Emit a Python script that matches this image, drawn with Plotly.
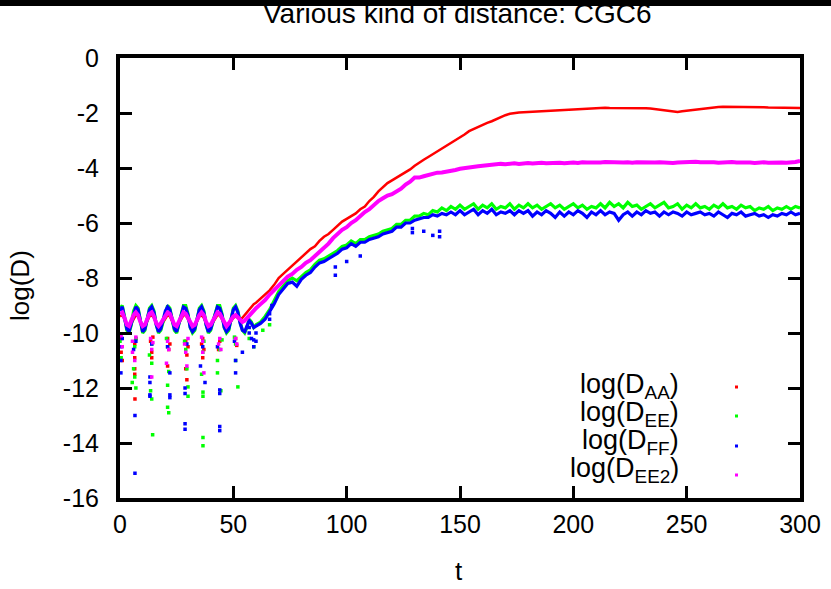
import plotly.graph_objects as go

# ---------------- data ----------------
t_early = list(range(0, 61))            # t = 0 .. 60, step 1
t_late = list(range(62, 301, 2))        # t = 62 .. 300, step 2

aa_early = [-9.4, -9.35, -9.5, -9.7, -9.8, -9.65, -9.45, -9.35, -9.4, -9.6, -9.8, -9.75, -9.55, -9.4, -9.35,
            -9.45, -9.65, -9.8, -9.75, -9.6, -9.45, -9.35, -9.4, -9.55, -9.75, -9.8, -9.65, -9.5, -9.35, -9.35,
            -9.5, -9.7, -9.8, -9.75, -9.55, -9.4, -9.35, -9.45, -9.65, -9.8, -9.75, -9.6, -9.45, -9.35, -9.35,
            -9.5, -9.7, -9.8, -9.7, -9.55, -9.45, -9.4, -9.45, -9.5, -9.45, -9.35, -9.25, -9.15, -9.05, -8.95, -8.9]
aa_late = [-8.75, -8.6, -8.45, -8.25, -8.0, -7.85, -7.7, -7.55, -7.4, -7.25, -7.1, -6.95, -6.85, -6.65, -6.5,
           -6.4, -6.25, -6.1, -5.95, -5.85, -5.75, -5.65, -5.5, -5.4, -5.2, -5.05, -4.85, -4.7, -4.55, -4.45,
           -4.35, -4.28, -4.15, -4.05, -3.92, -3.8, -3.7, -3.6, -3.5, -3.38, -3.3, -3.2, -3.1, -3.0, -2.9,
           -2.78, -2.66, -2.58, -2.5, -2.42, -2.36, -2.3, -2.22, -2.15, -2.08, -2.03, -2.0, -1.98, -1.97, -1.96,
           -1.95, -1.95, -1.94, -1.93, -1.92, -1.91, -1.9, -1.88, -1.87, -1.86, -1.85, -1.84, -1.83, -1.82, -1.82,
           -1.81, -1.81, -1.82, -1.82, -1.81, -1.82, -1.82, -1.81, -1.82, -1.83, -1.83, -1.84, -1.86, -1.89, -1.92,
           -1.94, -1.96, -1.96, -1.94, -1.92, -1.89, -1.86, -1.84, -1.82, -1.8, -1.79, -1.78, -1.77, -1.77, -1.77,
           -1.77, -1.77, -1.78, -1.78, -1.78, -1.79, -1.79, -1.8, -1.8, -1.81, -1.81, -1.81, -1.82, -1.82, -1.82]

ee_early = [-9.1, -9.0, -9.4, -9.9, -10.0, -9.7, -9.2, -9.0, -9.1, -9.6, -10.0, -9.9, -9.5, -9.1, -9.0,
            -9.2, -9.7, -10.0, -9.9, -9.6, -9.2, -9.0, -9.1, -9.5, -9.9, -10.0, -9.7, -9.3, -9.0, -9.0,
            -9.3, -9.8, -10.0, -9.9, -9.5, -9.1, -9.0, -9.2, -9.7, -10.0, -9.9, -9.6, -9.2, -9.0, -9.0,
            -9.3, -9.8, -10.0, -9.9, -9.5, -9.1, -9.0, -9.2, -9.6, -9.9, -10.0, -9.8, -9.5, -9.6, -9.8, -9.7]
ee_late = [-9.6, -9.4, -9.15, -8.85, -8.5, -8.3, -8.1, -8.0, -8.1, -7.95, -7.8, -7.7, -7.5, -7.35, -7.3,
           -7.2, -7.1, -7.0, -6.85, -6.8, -6.65, -6.75, -6.6, -6.6, -6.5, -6.45, -6.4, -6.3, -6.25, -6.2,
           -6.05, -6.05, -5.9, -5.9, -5.75, -5.75, -5.65, -5.7, -5.55, -5.6, -5.45, -5.55, -5.4, -5.5, -5.35,
           -5.5, -5.4, -5.3, -5.5, -5.35, -5.45, -5.3, -5.5, -5.4, -5.45, -5.3, -5.5, -5.35, -5.45, -5.3,
           -5.45, -5.35, -5.5, -5.4, -5.3, -5.45, -5.35, -5.5, -5.4, -5.3, -5.45, -5.35, -5.5, -5.4, -5.45,
           -5.3, -5.45, -5.25, -5.4, -5.3, -5.45, -5.25, -5.4, -5.35, -5.5, -5.4, -5.3, -5.45, -5.35, -5.25,
           -5.45, -5.4, -5.3, -5.5, -5.35, -5.45, -5.3, -5.45, -5.4, -5.5, -5.35, -5.45, -5.3, -5.45, -5.4,
           -5.5, -5.35, -5.45, -5.4, -5.55, -5.45, -5.5, -5.4, -5.55, -5.45, -5.5, -5.4, -5.5, -5.4, -5.45]

ff_early = [-9.2, -9.05, -9.45, -9.85, -9.95, -9.65, -9.25, -9.05, -9.15, -9.6, -9.95, -9.85, -9.5, -9.15, -9.05,
            -9.25, -9.7, -9.95, -9.85, -9.55, -9.2, -9.05, -9.15, -9.5, -9.85, -9.95, -9.65, -9.3, -9.05, -9.1,
            -9.35, -9.8, -9.95, -9.85, -9.5, -9.15, -9.05, -9.25, -9.7, -9.95, -9.85, -9.55, -9.25, -9.05, -9.1,
            -9.35, -9.8, -9.95, -9.85, -9.5, -9.15, -9.05, -9.25, -9.65, -9.9, -9.95, -9.75, -9.55, -9.65, -9.8, -9.75]
ff_late = [-9.65, -9.5, -9.25, -8.95, -8.6, -8.4, -8.2, -8.15, -8.3, -8.05, -7.9, -7.8, -7.6, -7.45, -7.4,
           -7.3, -7.2, -7.1, -6.95, -6.9, -6.75, -6.85, -6.7, -6.7, -6.6, -6.55, -6.5, -6.4, -6.35, -6.3,
           -6.15, -6.15, -6.0, -6.0, -5.9, -5.85, -5.8, -5.8, -5.7, -5.75, -5.65, -5.7, -5.6, -5.7, -5.55,
           -5.7, -5.6, -5.5, -5.7, -5.55, -5.65, -5.5, -5.7, -5.6, -5.65, -5.55, -5.7, -5.55, -5.65, -5.55,
           -5.75, -5.6, -5.7, -5.55, -5.65, -5.8, -5.6, -5.75, -5.6, -5.7, -5.55, -5.65, -5.8, -5.6, -5.7,
           -5.55, -5.7, -5.6, -5.65, -5.9, -5.7, -5.6, -5.75, -5.6, -5.7, -5.55, -5.65, -5.6, -5.75, -5.6,
           -5.7, -5.6, -5.65, -5.75, -5.6, -5.7, -5.65, -5.6, -5.7, -5.65, -5.75, -5.6, -5.7, -5.8, -5.65,
           -5.7, -5.6, -5.75, -5.7, -5.65, -5.75, -5.7, -5.8, -5.7, -5.75, -5.65, -5.7, -5.6, -5.7, -5.65]

ee2_early = [-9.3, -9.25, -9.45, -9.7, -9.75, -9.55, -9.35, -9.25, -9.35, -9.6, -9.75, -9.7, -9.45, -9.3, -9.25,
             -9.4, -9.65, -9.75, -9.65, -9.5, -9.35, -9.25, -9.3, -9.5, -9.7, -9.75, -9.6, -9.4, -9.25, -9.3,
             -9.45, -9.65, -9.75, -9.7, -9.5, -9.35, -9.25, -9.35, -9.6, -9.75, -9.7, -9.55, -9.4, -9.25, -9.3,
             -9.45, -9.65, -9.75, -9.65, -9.5, -9.4, -9.35, -9.45, -9.55, -9.6, -9.55, -9.45, -9.4, -9.3, -9.2, -9.1]
ee2_late = [-8.95, -8.8, -8.6, -8.45, -8.25, -8.1, -7.95, -7.85, -7.7, -7.6, -7.45, -7.35, -7.2, -7.05, -6.9,
            -6.75, -6.55, -6.4, -6.25, -6.15, -6.0, -5.9, -5.75, -5.6, -5.5, -5.35, -5.2, -5.1, -5.0, -4.95,
            -4.85, -4.75, -4.6, -4.5, -4.35, -4.35, -4.3, -4.25, -4.2, -4.17, -4.16, -4.14, -4.1, -4.07, -4.03,
            -4.0, -3.98, -3.96, -3.94, -3.92, -3.9, -3.88, -3.86, -3.85, -3.86, -3.84, -3.83, -3.85, -3.83, -3.82,
            -3.84, -3.82, -3.81, -3.83, -3.82, -3.8, -3.81, -3.83, -3.81, -3.8, -3.82, -3.79, -3.8, -3.81, -3.79,
            -3.8, -3.78, -3.79, -3.8, -3.78, -3.8, -3.79, -3.81, -3.79, -3.8, -3.78, -3.81, -3.8, -3.79, -3.81,
            -3.8, -3.82, -3.8, -3.79, -3.8, -3.78, -3.77, -3.79, -3.78, -3.8, -3.79, -3.81, -3.79, -3.8, -3.78,
            -3.8, -3.79, -3.81, -3.8, -3.82, -3.8, -3.79, -3.81, -3.8, -3.79, -3.8, -3.81, -3.8, -3.78, -3.74]

# scattered low points (dips) of each series
aa_dip_t = [0.5, 0.5, 1, 6.5, 6.5, 6.5, 6.5, 6.6, 7, 13.5, 14, 14, 14.5, 21, 21.5, 21, 22, 29, 29.5, 29, 29.5,
            30, 36.5, 36, 36.5, 37, 44, 44, 43.5, 51, 51.5]
aa_dip_v = [-10.2, -10.7, -11.0, -10.4, -10.9, -11.3, -11.5, -12.4, -10.2, -10.3, -10.7, -10.9, -10.15, -10.2,
            -10.6, -11.2, -10.4, -10.3, -10.8, -11.3, -11.7, -10.5, -10.2, -10.4, -10.9, -10.6, -10.3, -10.25,
            -10.6, -10.2, -10.45]

ee_dip_t = [0, 0.5, 5.4, 6.5, 6, 6.5, 7, 7, 14, 14, 13.5, 14, 14.4, 13, 21, 21.5, 21, 21, 21.5, 20.5, 29, 29.5,
            30, 30, 28.5, 36.5, 36, 36.6, 36.6, 36.6, 36.6, 37, 43, 43, 44, 44.5, 45, 51, 51, 52, 50.5, 57, 59,
            63, 66]
ee_dip_v = [-10.3, -10.9, -11.8, -10.5, -11.3, -11.6, -12.0, -10.2, -10.4, -11.1, -12.1, -12.4, -13.7, -10.8,
            -10.5, -11.4, -11.9, -12.7, -12.9, -10.2, -10.6, -11.3, -11.96, -12.3, -10.3, -10.7, -11.5, -12.15,
            -12.3, -13.8, -14.1, -10.3, -11.0, -11.45, -10.6, -12.1, -10.25, -10.4, -11.0, -11.96, -10.15,
            -10.2, -10.5, -9.9, -9.7]

ff_dip_t = [0.4, 0.4, 0.4, 1, 6.6, 6.6, 6, 7, 13.2, 13.2, 13.2, 13.2, 14, 22, 22, 22, 21, 28.7, 28.7, 28.7,
            28.7, 29.5, 37.5, 35.5, 36.5, 44, 44, 44, 44, 43, 51, 51, 50.5, 54, 57, 57, 58, 59, 59, 60, 60,
            66, 66, 67, 95, 95, 100, 106, 129, 129, 134, 138, 141, 141]
ff_dip_v = [-10.5, -11.0, -11.45, -10.2, -13.0, -15.1, -10.6, -10.3, -11.6, -11.8, -12.25, -12.3, -10.4,
            -11.45, -12.25, -12.35, -10.5, -12.0, -12.2, -13.3, -13.5, -10.4, -11.8, -11.2, -10.5, -12.07,
            -12.2, -13.4, -13.55, -10.5, -11.0, -11.45, -10.3, -10.7, -9.8, -10.0, -10.2, -10.25, -10.5,
            -10.0, -10.3, -9.5, -9.3, -9.0, -7.6, -7.9, -7.4, -7.2, -6.2, -6.35, -6.3, -6.45, -6.3, -6.5]

ee2_dip_t = [0.5, 1, 5.5, 5.5, 6.5, 7, 13.5, 14, 14, 14.5, 21, 20.5, 21.5, 28.5, 29, 29.5, 30, 36.5, 36.5,
             37, 36, 44, 44.5, 43.5, 51, 51.5]
ee2_dip_v = [-10.1, -10.5, -10.3, -10.7, -11.0, -10.15, -10.2, -10.6, -11.6, -10.35, -10.3, -11.1, -10.6,
             -10.4, -10.7, -11.2, -10.2, -10.3, -10.7, -11.45, -10.15, -10.2, -10.6, -10.4, -10.2, -10.4]

series_names = ["log(D<sub>AA</sub>)", "log(D<sub>EE</sub>)", "log(D<sub>FF</sub>)", "log(D<sub>EE2</sub>)"]
colors = ["#ff0000", "#00ff00", "#0000ff", "#ff00ff"]
widths = [2.5, 3.2, 3.2, 4]

x_ticks = [0, 50, 100, 150, 200, 250, 300]
y_ticks = [-16, -14, -12, -10, -8, -6, -4, -2, 0]

title_text = "Various kind of distance: CGC6"
xlabel = "t"
ylabel = "log(D)"

# ---------------- figure ----------------
t_all = t_early + t_late
series = [(aa_early + aa_late, aa_dip_t, aa_dip_v),
          (ee_early + ee_late, ee_dip_t, ee_dip_v),
          (ff_early + ff_late, ff_dip_t, ff_dip_v),
          (ee2_early + ee2_late, ee2_dip_t, ee2_dip_v)]

fig = go.Figure()
for (vals, dt, dv), col, w, nm in zip(series, colors, widths, series_names):
    if len(vals) != len(t_all) or len(dt) != len(dv):
        raise ValueError(f"length mismatch {nm}: {len(vals)} vs {len(t_all)}, {len(dt)} vs {len(dv)}")
    fig.add_trace(go.Scatter(x=t_all, y=vals, mode="lines", line=dict(color=col, width=w),
                             showlegend=False, name=nm))
    fig.add_trace(go.Scatter(x=dt, y=dv, mode="markers",
                             marker=dict(color=col, size=3.5, symbol="square", line=dict(width=0)),
                             showlegend=False, name=nm))

FONT = "Liberation Sans, Arial, Helvetica, sans-serif"
L, R, T, B = 120, 800, 58, 498
W, H = 831, 589
pw, ph = R - L, B - T


def px_x(x):
    return (x - L) / pw


def px_y(y):
    return (B - y) / ph


axis_common = dict(showgrid=False, zeroline=False, showline=True, linecolor="black", linewidth=4,
                   mirror="ticks", ticks="inside", ticklen=12, tickwidth=3, tickcolor="black",
                   automargin=False,
                   tickfont=dict(family=FONT, size=25, color="black"))

fig.update_layout(
    width=W, height=H,
    margin=dict(l=L, r=W - R, t=T, b=H - B, autoexpand=False),
    paper_bgcolor="white", plot_bgcolor="white",
    xaxis=dict(range=[0, 300], tickvals=x_ticks, ticktext=[str(v) for v in x_ticks],
               ticklabelstandoff=1, **axis_common),
    yaxis=dict(range=[-16, 0], tickvals=y_ticks, ticktext=[str(v) for v in y_ticks],
               ticklabelstandoff=12, **axis_common),
    showlegend=False,
    hovermode=False,
)

annotations = [
    dict(text=title_text, x=px_x(457), y=px_y(14), xref="paper", yref="paper", showarrow=False,
         xanchor="center", yanchor="middle", font=dict(family=FONT, size=28, color="black")),
    dict(text=xlabel, x=px_x(459), y=px_y(571), xref="paper", yref="paper", showarrow=False,
         xanchor="center", yanchor="middle", font=dict(family=FONT, size=26, color="black")),
    dict(text=ylabel, x=px_x(20), y=px_y(286), xref="paper", yref="paper", showarrow=False,
         xanchor="center", yanchor="middle", textangle=-90, font=dict(family=FONT, size=26, color="black")),
]
legend_rows = [386, 414, 442, 470]
for nm, yy in zip(series_names, legend_rows):
    annotations.append(dict(text=nm, x=px_x(681), y=px_y(yy), xref="paper", yref="paper", showarrow=False,
                            xanchor="right", yanchor="middle", font=dict(family=FONT, size=27, color="black")))
fig.update_layout(annotations=annotations)

shapes = [dict(type="rect", xref="paper", yref="paper", x0=px_x(0), x1=px_x(W), y0=px_y(6), y1=px_y(0),
               fillcolor="black", line=dict(width=0), layer="above")]
for col, yy in zip(colors, [387, 416, 446, 475]):
    shapes.append(dict(type="rect", xref="paper", yref="paper", x0=px_x(735), x1=px_x(738),
                       y0=px_y(yy + 1.5), y1=px_y(yy - 1.5), fillcolor=col, line=dict(width=0)))
fig.update_layout(shapes=shapes)

fig.write_html("out.html", config={"displayModeBar": False, "staticPlot": True},
               post_script="document.body.style.margin='0';document.body.style.overflow='hidden';")
